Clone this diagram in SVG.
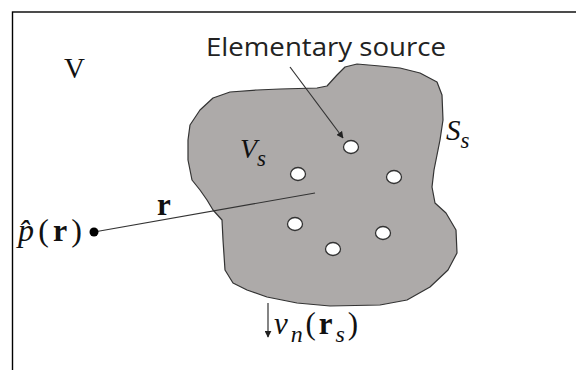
<svg xmlns="http://www.w3.org/2000/svg" width="576" height="370" viewBox="0 0 576 370">
<style>
.math{font-family:"Liberation Serif","DejaVu Serif",serif;fill:#111}
.it{font-style:italic}
.bf{font-weight:bold}
.lbl{font-family:"Open Sans","Noto Sans",sans-serif;fill:#222}
.conn{stroke:#333;stroke-width:1.2;fill:none}
.src{fill:#fff;stroke:#333;stroke-width:1.3}
</style>
<defs>
<marker id="ah" viewBox="0 0 10 10" refX="9" refY="5" markerWidth="7" markerHeight="7" markerUnits="userSpaceOnUse" orient="auto">
<path d="M0,0 L10,5 L0,10 z" fill="#222"/>
</marker>
</defs>
<rect x="12.5" y="12" width="600" height="400" fill="none" stroke="#000" stroke-width="1.4"/>
<g id="blob">
<path d="M317,88 L327,86 L337,75 L345,67 L357,64 L380,66 L400,68 L420,73 L437,82 L442,95 L443,120 L440,140 L434,170 L432,187 L435,203 L446,213 L456,230 L457,253 L448,270 L430,287 L407,300 L380,305 L330,306 L297,303 L267,297 L247,290 L233,283 L225,270 L223,240 L222,220 L213,210 L207,200 L200,190 L192,180 L188,160 L188,140 L190,125 L200,110 L213,98 L230,92 L257,90 L280,89 Z" fill="#adaaa9" stroke="#333" stroke-width="1.2" stroke-linejoin="round"/>
</g>
<g id="sources">
<ellipse class="src" cx="351" cy="147" rx="7.5" ry="6.5"/>
<ellipse class="src" cx="298" cy="174" rx="7.5" ry="6.5"/>
<ellipse class="src" cx="394" cy="177" rx="7.5" ry="6.5"/>
<ellipse class="src" cx="295" cy="224" rx="7.5" ry="6.5"/>
<ellipse class="src" cx="333" cy="249" rx="7.5" ry="6.5"/>
<ellipse class="src" cx="383" cy="233" rx="7.5" ry="6.5"/>
</g>
<g id="connectors">
<line class="conn" x1="94" y1="232" x2="315" y2="193"/>
<line class="conn" x1="290" y1="67" x2="343" y2="138" marker-end="url(#ah)"/>
<line class="conn" x1="268" y1="303" x2="268" y2="337" marker-end="url(#ah)"/>
</g>
<g id="point">
<circle cx="94" cy="232" r="4.5" fill="#000"/>
</g>
<g id="labels">
<text class="lbl" x="206" y="56" font-size="26" textLength="240" lengthAdjust="spacingAndGlyphs">Elementary source</text>
<text class="math" x="64" y="78" font-size="29">V</text>
<text class="math it" x="240" y="158" font-size="28">V<tspan font-size="23" dy="8">s</tspan></text>
<text class="math it" x="446" y="140" font-size="29">S<tspan font-size="23" dy="8">s</tspan></text>
<text class="math" x="18" y="241" font-size="32" textLength="64"><tspan class="it">p̂</tspan>(<tspan class="bf">r</tspan>)</text>
<text class="math bf" x="157" y="215" font-size="31">r</text>
<text class="math" x="274" y="334" font-size="31" textLength="84"><tspan class="it">v</tspan><tspan class="it" font-size="24" dy="8">n</tspan><tspan dy="-8">(</tspan><tspan class="bf">r</tspan><tspan class="it" font-size="24" dy="8">s</tspan><tspan dy="-8">)</tspan></text>
</g>
</svg>
